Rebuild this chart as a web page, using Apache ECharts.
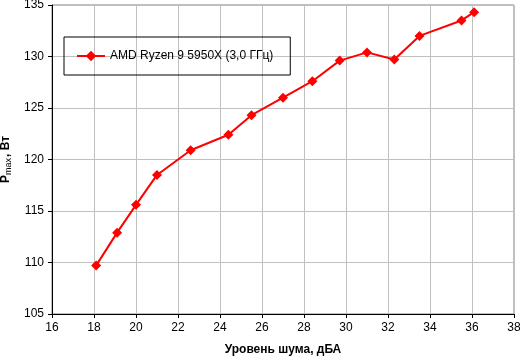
<!DOCTYPE html>
<html><head><meta charset="utf-8">
<script src="https://cdn.jsdelivr.net/npm/echarts@6/dist/echarts.min.js"></script>
<style>html,body{margin:0;padding:0;background:#fff}#c{width:520px;height:357px}</style>
</head><body><div id="c"></div>
<script>
const seriesName = 'AMD Ryzen 9 5950X (3,0 ГГц)';
const noiseDbA = [18.1, 19.1, 20.0, 21.0, 22.6, 24.4, 25.5, 27.0, 28.4, 29.7, 31.0, 32.3, 33.5, 35.5, 36.1];
const pmaxW   = [109.7, 112.9, 115.6, 118.5, 120.9, 122.4, 124.3, 126.0, 127.6, 129.6, 130.4, 129.7, 132.0, 133.5, 134.3];
const xTitle = 'Уровень шума, дБА';
const font = 'Arial, "Liberation Sans", sans-serif';

const chart = echarts.init(document.getElementById('c'), null, {renderer: 'canvas'});
chart.setOption({
  animation: false,
  backgroundColor: '#fff',
  textStyle: {fontFamily: font},
  grid: {left: 52, right: 6, top: 5, bottom: 43, containLabel: false, outerBoundsMode: 'none',
         show: true, borderColor: '#808080', borderWidth: 1, backgroundColor: 'transparent'},
  legend: {
    left: 64, top: 37, orient: 'horizontal',
    padding: [13, 17, 13, 12],
    borderColor: '#000', borderWidth: 1,
    itemWidth: 28, itemHeight: 13, itemGap: 5,
    textStyle: {fontFamily: font, fontSize: 12, color: '#000'},
    data: [seriesName]
  },
  xAxis: {
    type: 'value', min: 16, max: 38, interval: 2,
    name: xTitle, nameLocation: 'middle', nameGap: 30,
    nameTextStyle: {fontFamily: font, fontSize: 12, fontWeight: 'bold', color: '#000'},
    axisLine: {lineStyle: {color: '#000', width: 1}},
    axisTick: {show: true, inside: false, length: 4, lineStyle: {color: '#000'}},
    axisLabel: {fontFamily: font, fontSize: 12, color: '#000', margin: 8},
    splitLine: {show: true, lineStyle: {color: '#c0c0c0', width: 1}}
  },
  yAxis: {
    type: 'value', min: 105, max: 135, interval: 5,
    name: '{a|P}{b|max}{a|, Вт}', nameLocation: 'middle', nameGap: 35,
    nameTextStyle: {
      rich: {
        a: {fontFamily: font, fontSize: 12, fontWeight: 'bold', color: '#000'},
        b: {fontFamily: font, fontSize: 9, fontWeight: 'normal', color: '#000', padding: [5, 1, 0, 0]}
      }
    },
    axisLine: {show: true, lineStyle: {color: '#000', width: 1}},
    axisTick: {show: true, inside: false, length: 4, lineStyle: {color: '#000'}},
    axisLabel: {fontFamily: font, fontSize: 12, color: '#000', margin: 8},
    splitLine: {show: true, lineStyle: {color: '#c0c0c0', width: 1}}
  },
  series: [{
    name: seriesName,
    type: 'line',
    data: noiseDbA.map((x, i) => [x, pmaxW[i]]),
    symbol: 'diamond', symbolSize: 10,
    lineStyle: {color: '#ff0000', width: 2},
    itemStyle: {color: '#ff0000'},
    z: 5
  }]
});
</script>
</body></html>
